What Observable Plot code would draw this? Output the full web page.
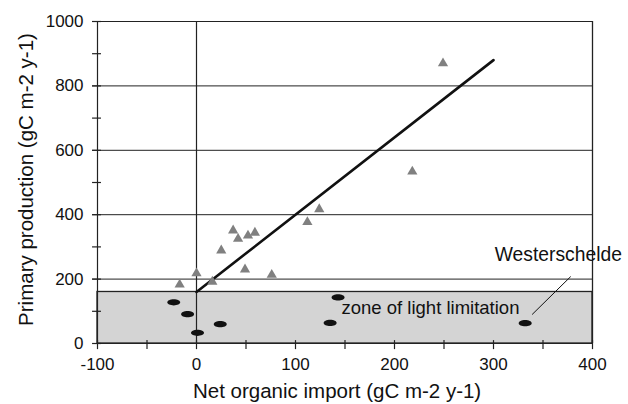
<!DOCTYPE html>
<html>
<head>
<meta charset="utf-8">
<script src="https://cdn.jsdelivr.net/npm/d3@7"></script>
<script src="https://cdn.jsdelivr.net/npm/@observablehq/plot@0.6"></script>
<style>
  html, body { margin: 0; padding: 0; background: #fff; }
  #chart svg { display: block; font-family: "Liberation Sans", Arial, sans-serif; }
</style>
</head>
<body>
<div id="chart"></div>
<script>
// Triangles (gray): net organic import vs primary production
const triImport = [-17, 0, 16, 25, 37, 42, 52, 59, 49, 76, 112, 124, 218, 249];
const triProd   = [183, 218, 192, 289, 351, 325, 335, 344, 230, 213, 377, 417, 534, 870];
// Ellipses (black): systems in the zone of light limitation
const circImport = [-23, -9, 1, 24, 135, 143, 332];
const circProd   = [128, 91, 33, 60, 64, 143, 63];
// Regression line end points
const fitImport = [0, 300];
const fitProd   = [160, 880];
// Zone of light limitation upper bound
const zoneTop = 160;
// Axis ticks
const xTickLabels = [-100, 0, 100, 200, 300, 400];
const xTickMarks  = [-100, -50, 0, 50, 100, 150, 200, 250, 300, 350, 400];
const yTickLabels = [0, 200, 400, 600, 800, 1000];
const yTickMarks  = [0, 100, 200, 300, 400, 500, 600, 700, 800, 900, 1000];
const gridY = [200, 400, 600, 800, 1000];

const tri = triImport.map((x, i) => ({x, y: triProd[i]}));
const circ = circImport.map((x, i) => ({x, y: circProd[i]}));
const fit = fitImport.map((x, i) => ({x, y: fitProd[i]}));

const ellipse = {
  draw(ctx) {
    const rx = 6.5, ry = 3.1, k = 0.5523, kx = rx * k, ky = ry * k;
    ctx.moveTo(rx, 0);
    ctx.bezierCurveTo(rx, ky, kx, ry, 0, ry);
    ctx.bezierCurveTo(-kx, ry, -rx, ky, -rx, 0);
    ctx.bezierCurveTo(-rx, -ky, -kx, -ry, 0, -ry);
    ctx.bezierCurveTo(kx, -ry, rx, -ky, rx, 0);
    ctx.closePath();
  }
};

const chart = Plot.plot({
  width: 628,
  height: 404,
  marginLeft: 97,
  marginRight: 36,
  marginTop: 21,
  marginBottom: 61,
  x: {domain: [-100, 400], axis: null},
  y: {domain: [0, 1000], axis: null},
  style: {fontFamily: "'Liberation Sans', Arial, sans-serif", background: "#fff"},
  marks: [
    Plot.rect([{x1: -100, x2: 400, y1: 0, y2: zoneTop}], {x1: "x1", x2: "x2", y1: "y1", y2: "y2", fill: "#d4d4d4", stroke: "#222", strokeWidth: 1.3}),
    Plot.ruleY(gridY, {y: d => d, x1: -105, x2: 400, stroke: "#222", strokeWidth: 1}),
    Plot.ruleX([0], {x: d => d, y1: 0, y2: 1000, stroke: "#222", strokeWidth: 1.2}),
    Plot.ruleX([400], {x: d => d, y1: 0, y2: 1000, stroke: "#222", strokeWidth: 1.3}),
    Plot.ruleX([-100], {x: d => d, y1: 0, y2: 1000, stroke: "#222", strokeWidth: 1.2}),
    Plot.ruleY([0], {y: d => d, x1: -100, x2: 400, stroke: "#222", strokeWidth: 1.2}),
    Plot.ruleY(yTickMarks, {y: d => d, x1: -105, x2: -96, stroke: "#222", strokeWidth: 1.2}),
    Plot.ruleX(xTickMarks, {x: d => d, y1: -19, y2: 9, stroke: "#222", strokeWidth: 1.2}),
    Plot.text(yTickLabels, {x: -100, y: d => d, text: d => String(d), dx: -14, textAnchor: "end", fontSize: 17, fill: "#111"}),
    Plot.text(xTickLabels, {x: d => d, y: 0, text: d => String(d), dy: 21, textAnchor: "middle", fontSize: 17, fill: "#111"}),
    Plot.text(["Net organic import (gC m-2 y-1)"], {x: 142, y: 0, dy: 48, textAnchor: "middle", fontSize: 20.5, fill: "#111"}),
    Plot.text(["Primary production (gC m-2 y-1)"], {frameAnchor: "left", rotate: -90, dx: -71, dy: -3, textAnchor: "middle", fontSize: 20.5, fill: "#111"}),
    Plot.line(fit, {x: "x", y: "y", stroke: "#111", strokeWidth: 2.6}),
    Plot.dot(tri, {x: "x", y: "y", symbol: "triangle", r: 3.8, fill: "#808080", stroke: "none"}),
    Plot.dot(circ, {x: "x", y: "y", symbol: ellipse, fill: "#111", stroke: "none"}),
    Plot.text(["zone of light limitation"], {x: 146.5, y: 109, textAnchor: "start", fontSize: 18.5, fill: "#111"}),
    Plot.text(["Westerschelde"], {x: 365.5, y: 276, textAnchor: "middle", fontSize: 19.3, fill: "#111"}),
    Plot.link([{x1: 378, y1: 208, x2: 339, y2: 90}], {x1: "x1", y1: "y1", x2: "x2", y2: "y2", stroke: "#111", strokeWidth: 1})
  ]
});
document.getElementById("chart").appendChild(chart);
</script>
</body>
</html>
